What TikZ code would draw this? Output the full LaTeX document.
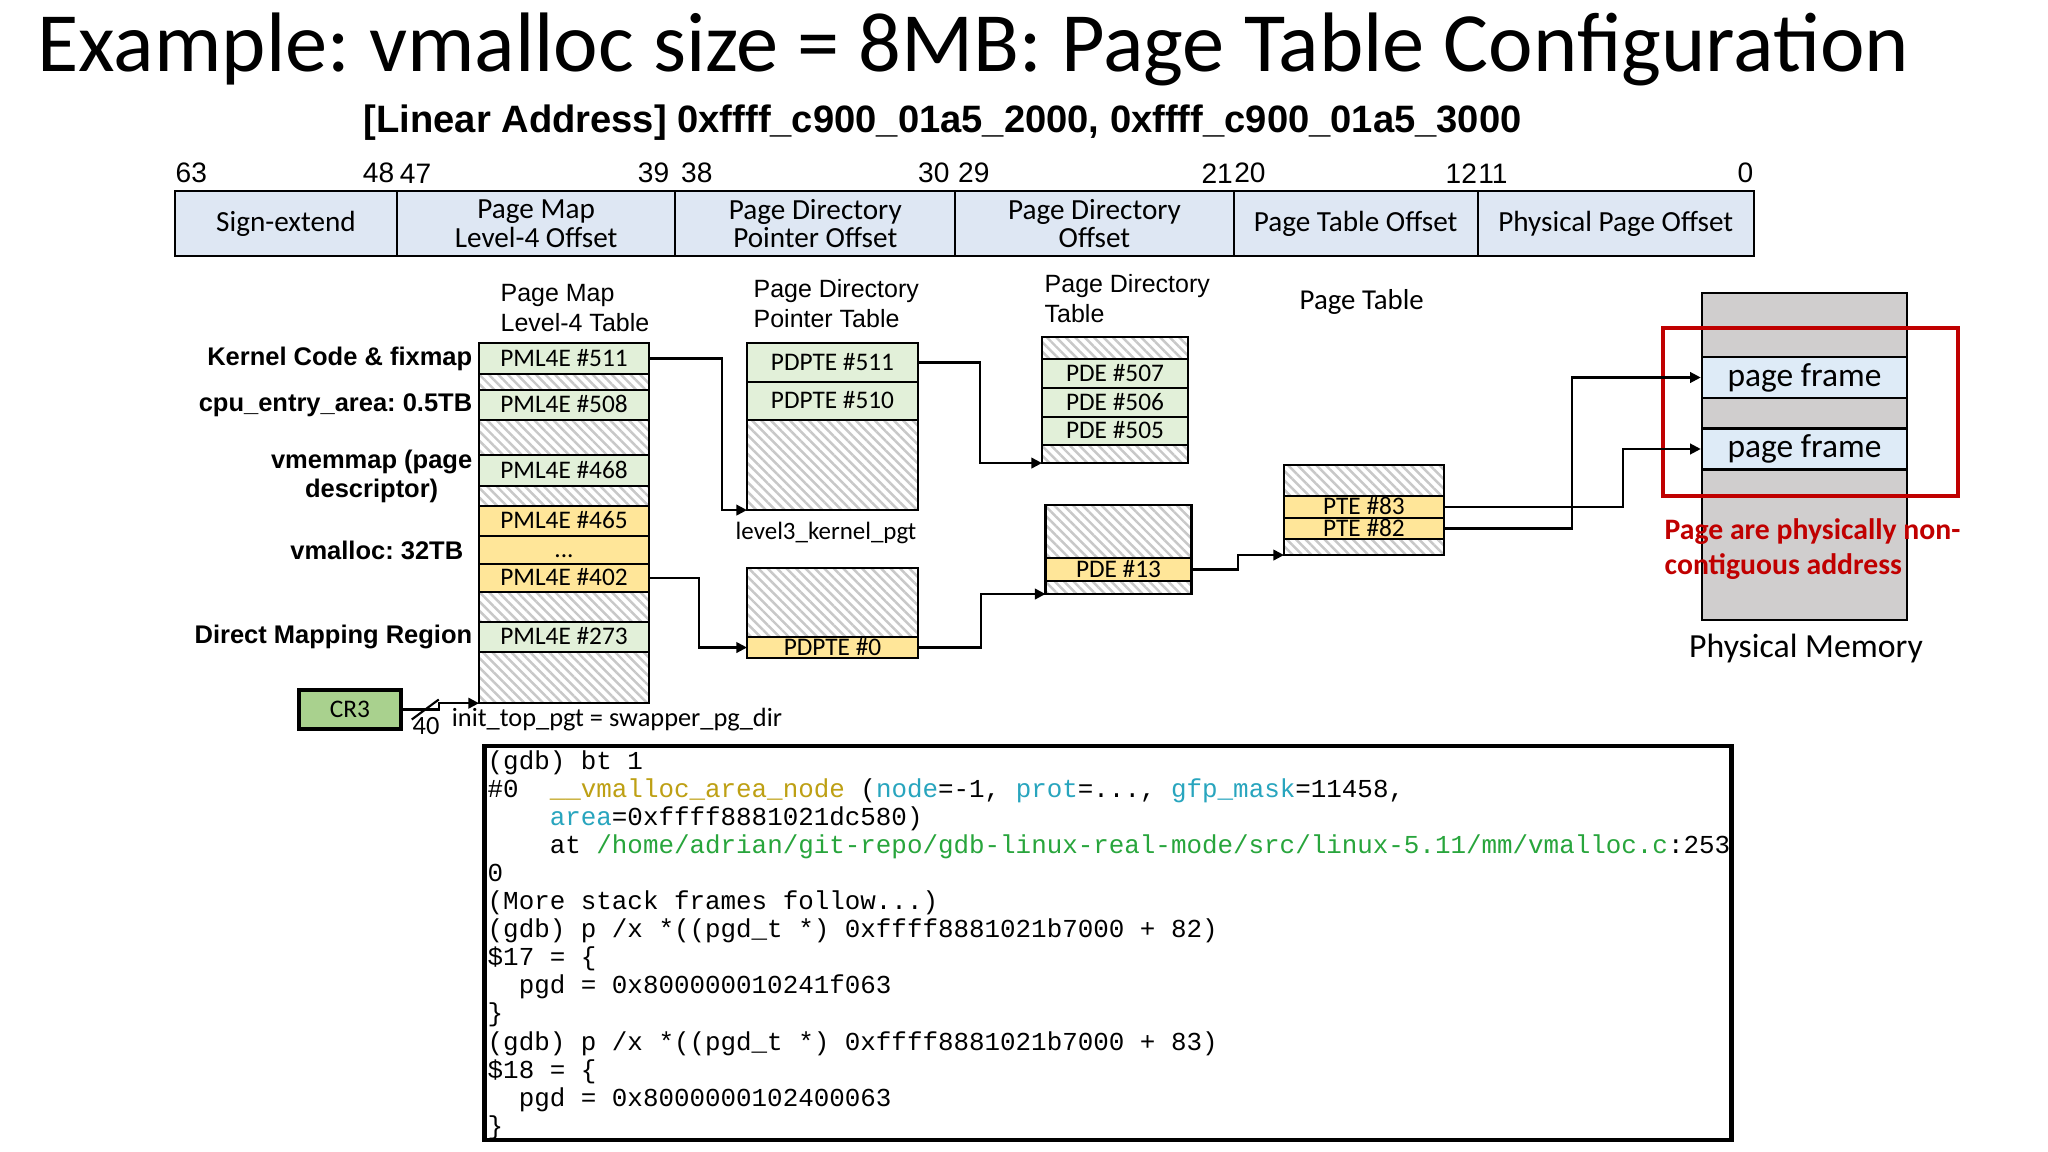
\documentclass[tikz,border=0pt]{standalone}
\usepackage{fontspec}
\usepackage{xcolor}
\usepackage{tikz}
\usetikzlibrary{positioning, arrows.meta, patterns.meta}

\setmainfont{Carlito}
\newfontfamily\arialfont{Liberation Sans}
\newfontfamily\gdbfont{Liberation Mono}
\frenchspacing

\definecolor{fieldblue}{RGB}{222,231,243}
\definecolor{entgreen}{RGB}{226,240,217}
\definecolor{entyellow}{RGB}{255,230,153}
\definecolor{hatchgray}{RGB}{200,200,200}
\definecolor{memgray}{RGB}{208,206,206}
\definecolor{frameblue}{RGB}{222,235,247}
\definecolor{cregreen}{RGB}{169,209,142}
\definecolor{darkred}{RGB}{192,0,0}
\definecolor{gdbolive}{RGB}{190,160,20}
\definecolor{gdbcyan}{RGB}{40,165,190}
\definecolor{gdbgreen}{RGB}{40,165,60}

\tikzset{
  field/.style={draw, fill=fieldblue, line width=0.6pt, minimum height=0.65cm, inner sep=0pt, outer sep=0pt, align=center, font=\fontsize{8.3}{6.9}\selectfont},
  bit/.style={font=\arialfont\fontsize{8}{9}\selectfont, inner xsep=0.6pt, inner ysep=2pt},
  row/.style={draw, line width=0.7pt, inner sep=0pt, outer sep=0pt, text height=5pt, text depth=0.6pt, font=\fontsize{7.2}{8}\selectfont},
  gent/.style={row, fill=entgreen},
  yent/.style={row, fill=entyellow},
  hatch/.style={row, text height=0pt, text depth=0pt, pattern={Lines[angle=-45, distance=1.9pt, line width=0.7pt]}, pattern color=hatchgray},
  rh/.style={minimum height=#1cm},
  head/.style={font=\arialfont\fontsize{7.1}{8.5}\selectfont, align=left, inner sep=0pt},
  lbl/.style={font=\arialfont\bfseries\fontsize{7.25}{8.25}\selectfont, align=center, inner sep=0pt},
  txt/.style={font=\fontsize{7.5}{9}\selectfont, inner sep=0pt},
  frame/.style={draw, fill=frameblue, line width=0.7pt, minimum width=2.05cm, minimum height=0.41cm, inner sep=0pt, font=\fontsize{9.5}{11}\selectfont},
  conn/.style={line width=0.6pt, -{Triangle[length=3pt,width=3pt]}}
}

\begin{document}
\begin{tikzpicture}[x=0.01cm, y=-0.01cm, node distance=0pt]
    \path[fill=white, use as bounding box] (0,0) rectangle (2048,1152);

    % title
    \node[anchor=base west, inner sep=0pt, font=\fontsize{24}{28}\selectfont] (title) at (37,72) {Example: vmalloc size = 8MB: Page Table Configuration};
    \node[anchor=base west, inner sep=0pt, font=\arialfont\bfseries\fontsize{10.85}{13}\selectfont] (addr) at (363,133) {[Linear Address] 0xffff\_c900\_01a5\_2000, 0xffff\_c900\_01a5\_3000};

    % linear address fields
    \node[field, minimum width=2.22cm] (f1) at (286,223.5) {Sign-extend};
    \node[field, minimum width=2.78cm, right=of f1] (f2) {Page Map\\Level-4 Offset};
    \node[field, minimum width=2.80cm, right=of f2] (f3) {Page Directory\\Pointer Offset};
    \node[field, minimum width=2.78cm, right=of f3] (f4) {Page Directory\\Offset};
    \node[field, minimum width=2.44cm, right=of f4] (f5) {Page Table Offset};
    \node[field, minimum width=2.76cm, right=of f5] (f6) {Physical Page Offset};

    \node[bit, anchor=south west, inner xsep=0pt] (b63) at (f1.north west) {63};
    \node[bit, anchor=south east] (b48) at (f1.north east) {48};
    \node[bit, anchor=south west] (b47) at (f2.north west) {47};
    \node[bit, anchor=south east, inner xsep=1.5pt] (b39) at (f2.north east) {39};
    \node[bit, anchor=south west, inner xsep=1.5pt] (b38) at (f3.north west) {38};
    \node[bit, anchor=south east, inner xsep=1.5pt] (b30) at (f3.north east) {30};
    \node[bit, anchor=south west] (b29) at (f4.north west) {29};
    \node[bit, anchor=south east, inner xsep=0pt] (b21) at (f4.north east) {21};
    \node[bit, anchor=south west, inner xsep=0pt] (b20) at (f5.north west) {20};
    \node[bit, anchor=south east, inner xsep=0pt] (b12) at (f5.north east) {12};
    \node[bit, anchor=south west, inner xsep=0pt] (b11) at (f6.north west) {11};
    \node[bit, anchor=south east, inner xsep=0pt] (b0) at (f6.north east) {0};

    % page map level-4 table
    \node[head, anchor=west] (hpml) at (500,308) {Page Map\\Level-4 Table};
    \begin{scope}[every node/.append style={minimum width=1.70cm}]
        \node[gent, rh=.31] (p511) at (564,358.5) {PML4E \#511};
        \node[hatch, rh=.16, below=of p511] (p511h) {};
        \node[gent, rh=.30, below=of p511h] (p508) {PML4E \#508};
        \node[hatch, rh=.35, below=of p508] (p508h) {};
        \node[gent, rh=.31, below=of p508h] (p468) {PML4E \#468};
        \node[hatch, rh=.20, below=of p468] (p468h) {};
        \node[yent, rh=.30, below=of p468h] (p465) {PML4E \#465};
        \node[yent, rh=.28, below=of p465] (pdots) {...};
        \node[yent, rh=.28, below=of pdots] (p402) {PML4E \#402};
        \node[hatch, rh=.30, below=of p402] (p402h) {};
        \node[gent, rh=.30, below=of p402h] (p273) {PML4E \#273};
        \node[hatch, rh=.51, below=of p273] (pbot) {};
    \end{scope}

    \node[lbl, left=0.06cm of p511] (lkern) {Kernel Code \& fixmap};
    \node[lbl, left=0.06cm of p508] (lcpu) {cpu\_entry\_area: 0.5TB};
    \node[lbl, left=0.06cm of p468, yshift=-0.06cm] (lvmem) {vmemmap (page\\descriptor)};
    \node[lbl, left=0.15cm of pdots] (lvmal) {vmalloc: 32TB};
    \node[lbl, left=0.06cm of p273] (ldir) {Direct Mapping Region};

    % page directory pointer tables
    \node[head, anchor=west] (hpdpt) at (753,304) {Page Directory\\Pointer Table};
    \begin{scope}[every node/.append style={minimum width=1.71cm}]
        \node[gent, rh=.39] (d511) at (832.5,362.5) {PDPTE \#511};
        \node[gent, rh=.38, below=of d511] (d510) {PDPTE \#510};
        \node[hatch, rh=.90, below=of d510] (dbot) {};
        \node[hatch, rh=.69] (dlow) at (832.5,602.5) {};
        \node[yent, rh=.21, below=of dlow] (d0) {PDPTE \#0};
    \end{scope}
    \node[txt, font=\fontsize{7.1}{9}\selectfont] (l3) at (826,533) {level3\_kernel\_pgt};

    % page directory tables
    \node[head, anchor=west] (hpd) at (1044,298.5) {Page Directory\\Table};
    \begin{scope}[every node/.append style={minimum width=1.46cm}]
        \node[hatch, rh=.22] (etop) at (1115,348) {};
        \node[gent, rh=.29, below=of etop] (e507) {PDE \#507};
        \node[gent, rh=.29, below=of e507] (e506) {PDE \#506};
        \node[gent, rh=.28, below=of e506] (e505) {PDE \#505};
        \node[hatch, rh=.18, below=of e505] (ebot) {};
        \node[hatch, rh=.53] (ltop) at (1118.5,531.5) {};
        \node[yent, rh=.23, below=of ltop] (e13) {PDE \#13};
        \node[hatch, rh=.13, below=of e13] (lbot) {};
    \end{scope}

    % page table
    \node[anchor=west, inner sep=0pt, font=\fontsize{8.2}{10}\selectfont] (hpt) at (1299,302) {Page Table};
    \begin{scope}[every node/.append style={minimum width=1.60cm}]
        \node[hatch, rh=.31] (ttop) at (1364,480.5) {};
        \node[yent, rh=.22, below=of ttop] (t83) {PTE \#83};
        \node[yent, rh=.21, below=of t83] (t82) {PTE \#82};
        \node[hatch, rh=.16, below=of t82] (tbot) {};
    \end{scope}

    % physical memory
    \node[draw, fill=memgray, line width=0.7pt, minimum width=2.05cm, minimum height=3.27cm, inner sep=0pt] (mem) at (1804.5,456.5) {};
    \node[frame] (pf1) at (1804.5,377.5) {page frame};
    \node[frame] (pf2) at (1804.5,449) {page frame};
    \node[draw=darkred, line width=1.1pt, minimum width=2.95cm, minimum height=1.68cm, inner sep=0pt] (grp) at (1810.5,412) {};
    \node[anchor=west, inner sep=0pt, align=left, text=darkred, font=\bfseries\fontsize{8.45}{10}\selectfont] (note) at (1664,549.5) {Page are physically non-\\contiguous address};
    \node[inner sep=0pt, font=\fontsize{9.6}{11}\selectfont] (pmem) at (1806,648) {Physical Memory};

    % cr3
    \node[draw, fill=cregreen, line width=1pt, minimum width=1.02cm, minimum height=0.39cm, inner sep=0pt, font=\fontsize{7.2}{8}\selectfont] (cr3) at (350,709.5) {CR3};
    \draw[line width=0.6pt] (cr3.east) ++(9,10) -- ++(27,-20);
    \node[txt] (bw) at (426,726) {40};
    \node[txt] (ptr) at (617,720) {init\_top\_pgt = swapper\_pg\_dir};

    % connectors
    \draw[conn] (cr3.east) -- ++(36,0) |- (pbot.south west);
    \draw[conn] (p511.east) -- ++(73,0) |- (dbot.south west);
    \draw[conn] (p402.east) -- ++(50,0) |- (d0.west);
    \draw[conn] (d511.east) -- ++(62,0) |- (ebot.south west);
    \draw[conn] (d0.east) -- ++(63,0) |- (lbot.south west);
    \draw[conn] (e13.east) -- ++(46,0) |- (tbot.south west);
    \draw[conn] (t83.east) -- ++(179,0) |- (pf2.west);
    \draw[conn] (t82.east) -- ++(128,0) |- (pf1.west);

    % gdb output
    \node[draw, line width=1.3pt, minimum width=12.46cm, minimum height=3.94cm, inner sep=0pt] (gdbbox) at (1108,943) {};
    \node[anchor=west, inner sep=0pt, align=left, font=\gdbfont\fontsize{7.36}{7.99}\selectfont] (gdbtxt) at (487,945) {(gdb) bt 1\\
\#0~~\textcolor{gdbolive}{\_\_vmalloc\_area\_node} (\textcolor{gdbcyan}{node}=-1, \textcolor{gdbcyan}{prot}=..., \textcolor{gdbcyan}{gfp\_mask}=11458,\\
\phantom{0000}\textcolor{gdbcyan}{area}=0xffff8881021dc580)\\
\phantom{0000}at \textcolor{gdbgreen}{/home/adrian/git-repo/gdb-linux-real-mode/src/linux-5.11/mm/vmalloc.c}:253\\
0\\
(More stack frames follow...)\\
(gdb) p /x *((pgd\_t *) 0xffff8881021b7000 + 82)\\
\$17 = \{\\
\phantom{00}pgd = 0x800000010241f063\\
\}\\
(gdb) p /x *((pgd\_t *) 0xffff8881021b7000 + 83)\\
\$18 = \{\\
\phantom{00}pgd = 0x8000000102400063\\
\}};
\end{tikzpicture}
\end{document}
